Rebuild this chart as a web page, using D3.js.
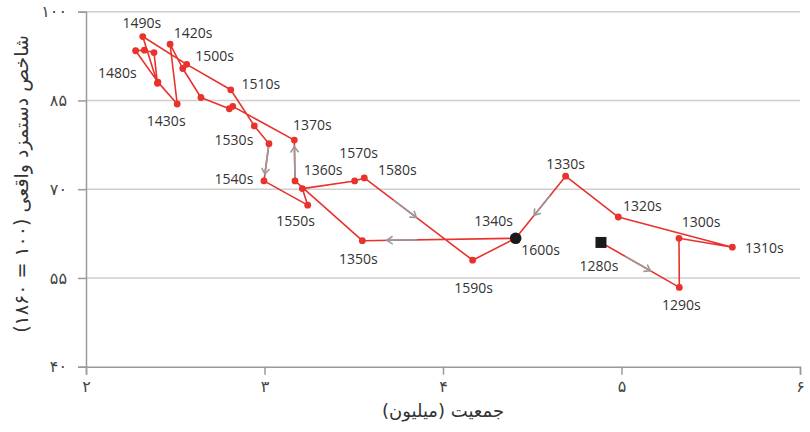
<!DOCTYPE html>
<html><head><meta charset="utf-8">
<script src="https://cdn.jsdelivr.net/npm/d3@7"></script>
<style>
html,body{margin:0;padding:0;background:#fff;}
svg{display:block;}
</style>
</head><body>
<svg id="chart" width="810" height="432"></svg>
<script>
// ---- data ----
const decades = ["1280s","1290s","1300s","1310s","1320s","1330s","1340s","1350s","1360s","1370s",
  "1380s","1390s","1400s","1410s","1420s","1430s","1440s","1450s","1460s","1470s","1480s","1490s",
  "1500s","1510s","1520s","1530s","1540s","1550s","1560s","1570s","1580s","1590s","1600s"];
const population = [4.885,5.324,5.322,5.621,4.982,4.687,4.407,3.548,3.171,3.167,
  2.822,2.803,2.644,2.542,2.471,2.511,2.403,2.278,2.327,2.381,2.400,2.318,
  2.564,2.811,2.943,3.025,2.997,3.242,3.212,3.505,3.559,4.166,4.407];
const wage = [61.0,53.4,61.7,60.2,65.3,72.2,61.7,61.3,71.4,78.3,
  84.0,83.6,85.5,90.4,94.5,84.4,88.1,93.4,93.5,93.1,87.9,95.8,
  91.1,86.8,80.7,77.7,71.4,67.3,70.1,71.4,71.9,58.0,61.7];
const labelledDecades = ["1280s","1290s","1300s","1310s","1320s","1330s","1340s","1350s","1360s","1370s",
  "1420s","1430s","1480s","1490s","1500s","1510s","1530s","1540s","1550s","1570s","1580s","1590s","1600s"];
const xTicks = [2,3,4,5,6];
const yTicks = [40,55,70,85,100];
const xTitle = "جمعیت (میلیون)";
const yTitle = "شاخص دستمزد واقعی (۱۰۰ = ۱۸۶۰)";
const arrowSegments = [["1280s","1290s"],["1330s","1340s"],["1340s","1350s"],["1360s","1370s"],["1530s","1540s"],["1580s","1590s"]];

// ---- layout / style ----
const labelOffset = {
  "1280s":[-2,23],"1290s":[2,17],"1300s":[22,-17],"1310s":[32,0],"1320s":[24,-12],"1330s":[0,-13],
  "1340s":[-22,-18],"1350s":[-4,18],"1360s":[28,-11],"1370s":[18,-16],"1420s":[23,-12],"1430s":[-11,16],
  "1480s":[-40,-11],"1490s":[-1,-14],"1500s":[28,-9],"1510s":[30,-6],"1530s":[-35,-4],"1540s":[-30,-2],
  "1550s":[-12,15],"1570s":[4,-28],"1580s":[33,-8],"1590s":[1,27],"1600s":[25,11]
};
const arrowFrac = [[0.31,0.63],[0.31,0.63],[0.645,0.84],[0,0.84],[0,0.82],[0.27,0.48]];

const toFa = s => String(s).replace(/\d/g, d => "۰۱۲۳۴۵۶۷۸۹"[+d]);

const svg = d3.select("#chart");
const x = d3.scaleLinear().domain([2,6]).range([86,800]);
const y = d3.scaleLinear().domain([40,100]).range([366.7,11.7]);

const RED = "#e8322b", GRAY = "#9a9a9a", TXT = "#333";
const FA = "'DejaVu Sans', sans-serif";

// gridlines
svg.append("g").selectAll("line").data(yTicks.filter(v=>v>40)).join("line")
  .attr("x1",x(2)).attr("x2",x(6)).attr("y1",d=>y(d)).attr("y2",d=>y(d))
  .attr("stroke","#cfcfcf").attr("stroke-width",1.5);

// axes
const xAxis = d3.axisBottom(x).tickValues(xTicks).tickFormat(toFa).tickSize(8).tickPadding(6);
const yAxis = d3.axisLeft(y).tickValues(yTicks).tickFormat(toFa).tickSize(8).tickPadding(11);
const gx = svg.append("g").attr("transform",`translate(0,${y(40)})`).call(xAxis);
const gy = svg.append("g").attr("transform",`translate(${x(2)},0)`).call(yAxis);
[gx,gy].forEach(g=>{
  g.select(".domain").attr("stroke",GRAY).attr("stroke-width",1.5);
  g.selectAll(".tick line").attr("stroke",GRAY).attr("stroke-width",1.5);
  g.selectAll(".tick text").attr("fill","#444").attr("font-family",FA).attr("font-size",16);
});

// axis titles
svg.append("text").attr("x",x(4)).attr("y",417).attr("text-anchor","middle")
  .attr("direction","rtl").attr("font-family",FA).attr("font-size",18).attr("fill",TXT)
  .text(xTitle);
svg.append("text").attr("transform","translate(28,184) rotate(-90)").attr("text-anchor","middle")
  .attr("direction","rtl").attr("font-family",FA).attr("font-size",19).attr("fill",TXT)
  .text(yTitle);

// path
const pts = decades.map((d,i)=>({d, px:x(population[i]), py:y(wage[i])}));
const byDec = Object.fromEntries(pts.map(p=>[p.d,p]));
svg.append("path").datum(pts)
  .attr("d", d3.line().x(p=>p.px).y(p=>p.py))
  .attr("fill","none").attr("stroke",RED).attr("stroke-width",1.6).attr("stroke-linejoin","round");

// direction arrows
const ga = svg.append("g");
arrowSegments.forEach(([a,b],i)=>{
  const A=byDec[a], B=byDec[b], [t0,t1]=arrowFrac[i];
  const sx=A.px+(B.px-A.px)*t0, sy=A.py+(B.py-A.py)*t0;
  const ex=A.px+(B.px-A.px)*t1, ey=A.py+(B.py-A.py)*t1;
  ga.append("line").attr("x1",sx).attr("y1",sy).attr("x2",ex).attr("y2",ey)
    .attr("stroke",GRAY).attr("stroke-width",1.6);
  const ang=Math.atan2(B.py-A.py,B.px-A.px), L=7, w=0.6;
  const p1=[ex-L*Math.cos(ang-w), ey-L*Math.sin(ang-w)];
  const p2=[ex-L*Math.cos(ang+w), ey-L*Math.sin(ang+w)];
  ga.append("path").attr("d",`M${p1}L${ex},${ey}L${p2}`)
    .attr("fill","none").attr("stroke",GRAY).attr("stroke-width",1.6);
});

// dots
svg.append("g").selectAll("circle").data(pts.slice(1,-1)).join("circle")
  .attr("cx",p=>p.px).attr("cy",p=>p.py).attr("r",3.4).attr("fill",RED);
const first=pts[0], last=pts[pts.length-1];
svg.append("rect").attr("x",first.px-5.5).attr("y",first.py-5.5).attr("width",11).attr("height",11).attr("fill","#1a1a1a");
svg.append("circle").attr("cx",last.px).attr("cy",last.py).attr("r",5.8).attr("fill","#1a1a1a");

// labels
svg.append("g").selectAll("text").data(labelledDecades).join("text")
  .attr("x",d=>byDec[d].px+labelOffset[d][0]).attr("y",d=>byDec[d].py+labelOffset[d][1])
  .attr("text-anchor","middle").attr("dominant-baseline","central")
  .attr("font-family","'Open Sans', sans-serif").attr("font-size",14).attr("fill",TXT)
  .text(d=>d);
</script>
</body></html>
